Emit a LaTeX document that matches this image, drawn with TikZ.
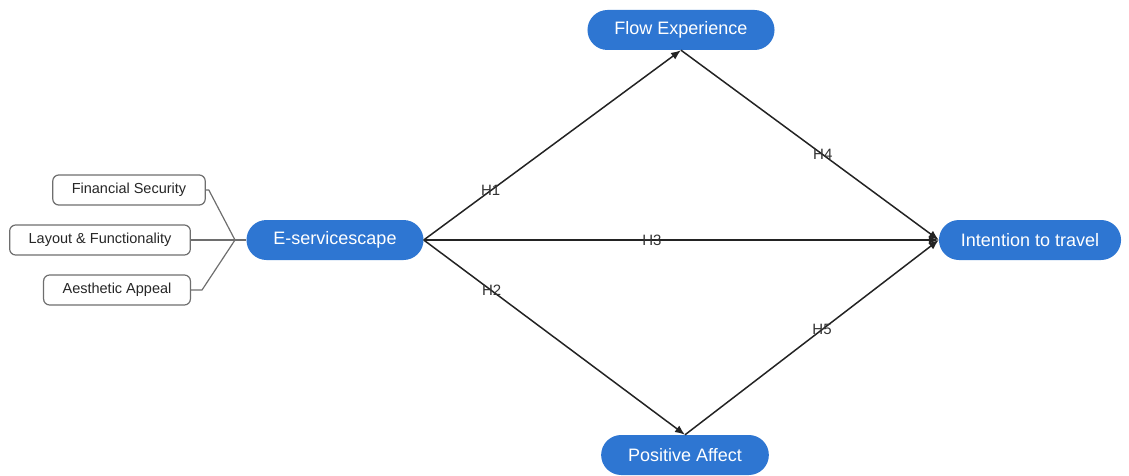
\documentclass[tikz,border=0pt]{standalone}
\usepackage{fontspec}
\setmainfont{Liberation Sans}
\usepackage{xcolor}
\usetikzlibrary{arrows.meta,positioning}
\definecolor{pillblue}{RGB}{46,118,210}
\definecolor{linegray}{RGB}{35,35,35}
\definecolor{boxgray}{RGB}{110,110,110}
\tikzset{construct/.style={rectangle, rounded corners=20pt, fill=pillblue, draw=none, text=white, font=\fontsize{18}{21}\selectfont, minimum height=40pt, inner xsep=27pt}, dimbox/.style={rectangle, rounded corners=6pt, draw=boxgray, line width=1.2pt, fill=white, text=black!85, font=\fontsize{14.5}{17}\selectfont, minimum height=30pt, inner xsep=19pt}, arrow/.style={-{Latex[length=10pt,width=8pt]}, line width=1.5pt, draw=linegray}, link/.style={line width=1.2pt, draw=boxgray}, hyp/.style={font=\fontsize{15}{17}\selectfont, text=black!80, inner sep=0pt}}
\begin{document}
\begin{tikzpicture}[x=1pt,y=-1pt]
\useasboundingbox (0,0) rectangle (1129,476);
\node[construct] (eserv) at (335,240) {E-servicescape};
\node[construct] (flow) at (681,30) {Flow Experience};
\node[construct] (affect) at (685,455) {Positive Affect};
\node[construct, inner xsep=22pt] (intent) at (1030,240) {Intention to travel};
\node[dimbox] (finsec) at (129,190) {Financial Security};
\node[dimbox] (layout) at (100,240) {Layout \& Functionality};
\node[dimbox] (aesth) at (117,290) {Aesthetic Appeal};
\coordinate (junc) at (235,240);
\draw[link] (finsec.east) -- ++(3,0) -- (junc);
\draw[link] (layout.east) -- (junc);
\draw[link] (aesth.east) -- ++(11,0) -- (junc);
\draw[link] (junc) -- (eserv.west);
\draw[arrow] (eserv.east) -- node[hyp, pos=0.26]{H1} (flow.south);
\draw[arrow] (eserv.east) -- node[hyp, pos=0.26]{H2} (affect.north);
\draw[arrow] (eserv.east) -- node[hyp, pos=0.443]{H3} (intent.west);
\draw[arrow] (flow.south) -- node[hyp, pos=0.55]{H4} (intent.west);
\draw[arrow] (affect.north) -- node[hyp, pos=0.54]{H5} (intent.west);
\end{tikzpicture}
\end{document}
